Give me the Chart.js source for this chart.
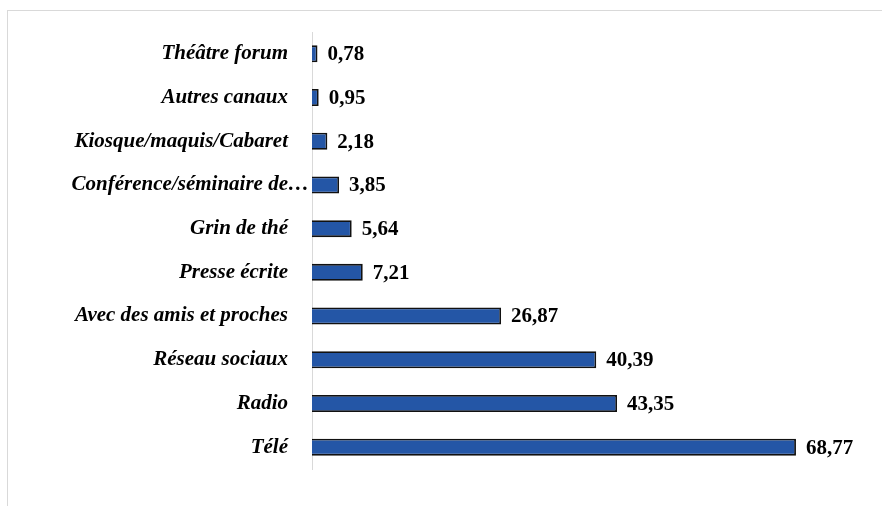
<!DOCTYPE html>
<html>
<head>
<meta charset="utf-8">
<script src="https://cdn.jsdelivr.net/npm/chart.js@4"></script>
<style>
  html, body { margin: 0; padding: 0; background: #fff; }
  #frame { position: absolute; left: 7px; top: 10px; width: 900px; height: 520px; border: 1px solid #d9d9d9; }
  #wrap { position: absolute; left: 0; top: 0; width: 882px; height: 506px; }
</style>
</head>
<body>
<div id="frame"></div>
<div id="wrap"><canvas id="dataChart"></canvas></div>
<script>
// categories, top to bottom
const categories = [
  'Théâtre forum',
  'Autres canaux',
  'Kiosque/maquis/Cabaret',
  'Conférence/séminaire de…',
  'Grin de thé',
  'Presse écrite',
  'Avec des amis et proches',
  'Réseau sociaux',
  'Radio',
  'Télé'
];
const values = [0.78, 0.95, 2.18, 3.85, 5.64, 7.21, 26.87, 40.39, 43.35, 68.77];
const valueLabels = ['0,78', '0,95', '2,18', '3,85', '5,64', '7,21', '26,87', '40,39', '43,35', '68,77'];

// value labels at the end of each bar
const barValues = {
    id: 'barValues',
    afterDatasetsDraw(chart) {
        const ctx = chart.ctx;
        const meta = chart.getDatasetMeta(0);
        ctx.save();
        ctx.font = 'bold 21px "Liberation Serif", "Times New Roman", serif';
        ctx.fillStyle = '#000';
        ctx.textAlign = 'left';
        ctx.textBaseline = 'middle';
        meta.data.forEach((bar, i) => {
            ctx.fillText(valueLabels[i], bar.x + 10, bar.y + 1);
        });
        ctx.restore();
    }
};

function createGraph() {
    const ctx = document.getElementById('dataChart').getContext('2d');
    new Chart(ctx, {
        type: 'bar',
        data: {
            labels: categories,
            datasets: [{
                data: values,
                backgroundColor: '#2456a6',
                borderColor: '#111',
                borderWidth: 1.8,
                barPercentage: 0.39,
                categoryPercentage: 1
            }]
        },
        options: {
            indexAxis: 'y',
            responsive: true,
            maintainAspectRatio: false,
            animation: false,
            layout: { padding: { left: 0, top: 32, right: 7, bottom: 37 } },
            scales: {
                x: {
                    display: false,
                    min: 0,
                    max: 80
                },
                y: {
                    afterFit: scale => { scale.width = 312; },
                    grid: { display: false, drawTicks: false, tickLength: 0 },
                    border: { display: true, color: '#d9d9d9', width: 1 },
                    ticks: {
                        padding: 3,
                        color: '#000',
                        // the truncated label runs up to the axis, the others sit further left
                        callback: function(value) {
                            const label = this.getLabelForValue(value);
                            return label.endsWith('…') ? label : label + '\u2002\u2002';
                        },
                        font: { family: '"Liberation Serif", "Times New Roman", serif', size: 21, weight: 'bold', style: 'italic' }
                    }
                }
            },
            plugins: {
                legend: { display: false },
                tooltip: { enabled: false }
            }
        },
        plugins: [barValues]
    });
}

window.onload = function() {
    createGraph();
};
</script>
</body>
</html>
